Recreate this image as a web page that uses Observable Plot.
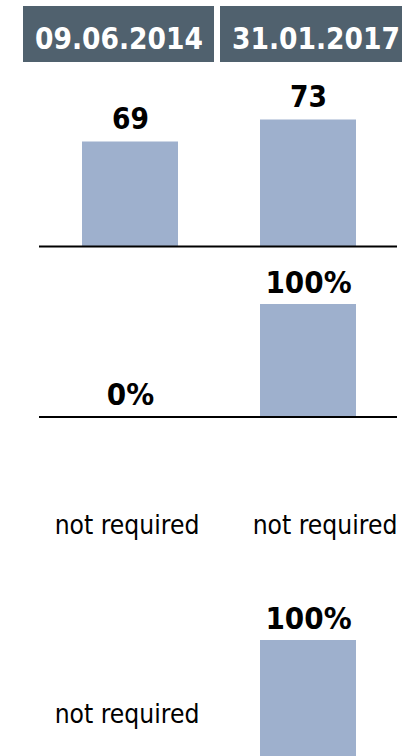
<!DOCTYPE html>
<html>
<head>
<meta charset="utf-8">
<script src="https://cdn.jsdelivr.net/npm/d3@7"></script>
<script src="https://cdn.jsdelivr.net/npm/@observablehq/plot@0.6"></script>
<style>
  html, body { margin: 0; padding: 0; background: #fff; overflow: hidden; width: 402px; height: 756px; }
  #chart svg { display: block; }
</style>
</head>
<body>
<div id="chart"></div>
<script>
// Column headers (reporting dates)
const dates = ["09.06.2014", "31.01.2017"];
// Row 1: score per date
const scores = [69, 73];
// Row 2: share in percent
const sharePct = [0, 100];
// Row 3: no values (not required on either date)
const row3Pct = [null, null];
// Row 4: share in percent, not required on the first date
const row4Pct = [null, 100];
const missingLabel = "not required";

const headerFill = "#50616e";
const barFill = "#9eb0cd";
const font = "'DejaVu Sans Condensed', 'DejaVu Sans', sans-serif";
const W = 402;

const rows = (values) => dates.map((date, i) => ({date, value: values[i]}));

// shared column layout for the bar rows
const colX = {type: "band", domain: dates, range: [81.5, 357.5], paddingInner: 0.458, paddingOuter: 0, axis: null};
const boldLabel = {fontWeight: "bold", fill: "black", lineAnchor: "bottom"};
const plainLabel = {fontSize: 26.2, fill: "black", lineAnchor: "bottom"};
const missingShift = {[dates[0]]: -3.5, [dates[1]]: 16.5};

const root = document.getElementById("chart");

// Header boxes with the dates
root.append(Plot.plot({
  width: W, height: 62,
  marginTop: 6, marginBottom: 0, marginLeft: 0, marginRight: 0,
  style: {fontFamily: font, background: "white"},
  x: {type: "band", domain: dates, range: [22, 412], paddingInner: 0.0303, paddingOuter: 0, axis: null},
  marks: [
    Plot.cell(dates, {x: d => d, fill: headerFill, inset: 0}),
    Plot.text(dates, {x: d => d, text: d => d, frameAnchor: "bottom", lineAnchor: "bottom", dy: -14,
      fill: "white", fontWeight: "bold", fontSize: 29.5})
  ]
}));

// Row 1: scores, axis starting at 50
const scoreRows = rows(scores);
root.append(Plot.plot({
  width: W, height: 186,
  marginTop: 19, marginBottom: 2, marginLeft: 39, marginRight: 5,
  style: {fontFamily: font, background: "white"},
  x: colX,
  y: {domain: [50, 80], axis: null},
  marks: [
    Plot.barY(scoreRows, {x: "date", y1: 50, y2: "value", fill: barFill}),
    Plot.ruleY([50], {stroke: "black", strokeWidth: 2}),
    Plot.text(scoreRows, {x: "date", y: "value", text: d => String(d.value), dy: -13, fontSize: 29.5, ...boldLabel})
  ]
}));

// Percentage rows
function percentRow(values, {height, marginTop, marginBottom}) {
  const data = rows(values);
  const present = data.filter(d => d.value != null);
  const missing = data.filter(d => d.value == null);
  return Plot.plot({
    width: W, height, marginTop, marginBottom, marginLeft: 39, marginRight: 5,
    style: {fontFamily: font, background: "white"},
    x: colX,
    y: {domain: [0, 100], axis: null},
    marks: [
      Plot.barY(present, {x: "date", y: "value", fill: barFill}),
      present.length ? Plot.ruleY([0], {stroke: "black", strokeWidth: 2}) : null,
      Plot.text(present, {x: "date", y: "value", text: d => `${d.value}%`, dy: -12, fontSize: 31, ...boldLabel}),
      ...missing.map(d => Plot.text([d], {x: "date", text: () => missingLabel, frameAnchor: "bottom",
        dx: missingShift[d.date], dy: present.length ? -38 : 0, ...plainLabel}))
    ]
  });
}

root.append(percentRow(sharePct, {height: 170, marginTop: 56, marginBottom: 1.5}));
root.append(percentRow(row3Pct, {height: 170, marginTop: 56, marginBottom: 55}));
root.append(percentRow(row4Pct, {height: 176, marginTop: 52, marginBottom: 4}));
</script>
</body>
</html>
